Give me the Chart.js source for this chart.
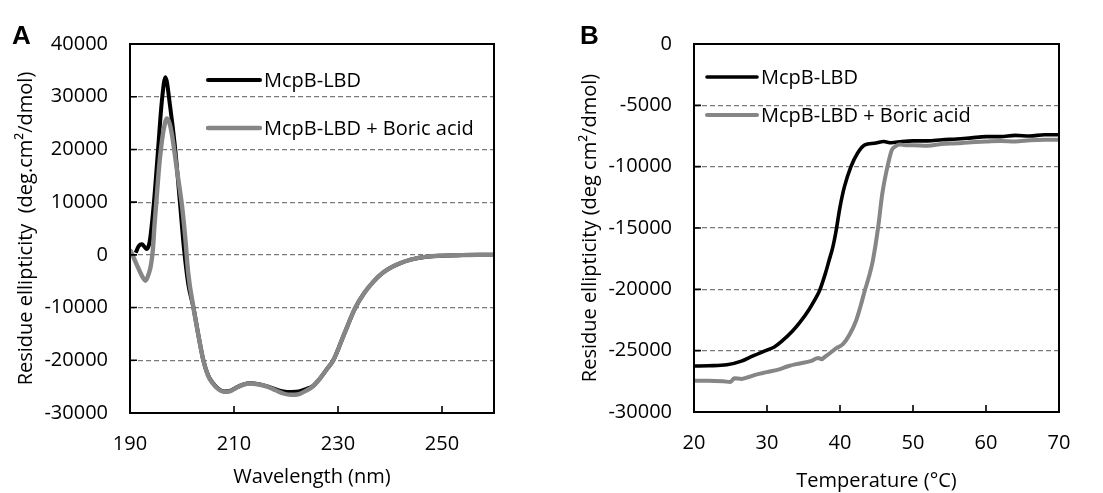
<!DOCTYPE html>
<html>
<head>
<meta charset="utf-8">
<script src="https://cdn.jsdelivr.net/npm/chart.js@4.4.0/dist/chart.umd.min.js"></script>
<style>
  html, body { margin: 0; padding: 0; background: #fff; }
  #wrap { position: relative; width: 1103px; height: 493px; overflow: hidden; }
  .panel { position: absolute; top: 0; height: 493px; }
  #panelA { left: 0; width: 560px; }
  #panelB { left: 560px; width: 543px; }
  .letter { position: absolute; font: bold 26px "Liberation Sans", Arial, sans-serif; line-height: 1; color: #000; }
</style>
</head>
<body>
<div id="wrap">
  <div class="panel" id="panelA"><canvas id="chartA"></canvas></div>
  <div class="panel" id="panelB"><canvas id="chartB"></canvas></div>
  <div class="letter" style="left:12px;top:22px">A</div>
  <div class="letter" style="left:580px;top:22px">B</div>
</div>
<script>
// ---- Panel A: CD spectra ----
const seriesNames = ['McpB-LBD', 'McpB-LBD + Boric acid'];

const waveBlackA = [191.1, 191.7, 192.3, 192.8, 193.2, 193.8, 194.6, 195.4, 196.1, 196.8, 197.7, 198.7, 199.6, 200.4, 201.2, 202.2, 203.2, 204.1, 205, 206, 207, 208.1, 209.2, 210.3, 211.8, 213.2, 214.8, 216.4, 218, 219.5, 221, 222.5, 224, 225, 226.5, 228, 229.1, 231.2, 233.3, 235, 236.8, 238.5, 240, 241.9, 244, 247, 250, 254, 257, 260];
const cdBlackA = [400, 1700, 2000, 1500, 1100, 2600, 9900, 20000, 28900, 33700, 28300, 20000, 10000, 1000, -5500, -10000, -15500, -20000, -22800, -24400, -25400, -25900, -25800, -25250, -24600, -24350, -24550, -24950, -25500, -25900, -26000, -25900, -25400, -25000, -23500, -21500, -20000, -15000, -10100, -7300, -5100, -3500, -2500, -1600, -900, -340, -150, -50, 0, 0];

const waveGrayA = [190, 190.7, 191.4, 192.2, 193, 193.6, 194, 194.4, 194.7, 195.1, 195.5, 196, 196.5, 197.1, 197.6, 198.1, 199, 200, 200.6, 201.2, 202.2, 203.2, 204.1, 205, 206, 207, 208.1, 209.2, 210.3, 211.8, 213.2, 214.8, 216.4, 218, 219.5, 221, 222.5, 224, 225, 226.5, 228, 229.1, 231.2, 233.3, 235, 236.8, 238.5, 240, 241.9, 244, 247, 250, 254, 257, 260];
const cdGrayA = [1000, -500, -2100, -3800, -4900, -3600, -2100, 1000, 5500, 10500, 15600, 20500, 23900, 25900, 25000, 22600, 16300, 9300, 3500, -3500, -10000, -15500, -20000, -22900, -24500, -25500, -26000, -25900, -25300, -24600, -24400, -24600, -25000, -25700, -26300, -26550, -26400, -25700, -25100, -23500, -21500, -20000, -15000, -10100, -7300, -5100, -3500, -2500, -1600, -900, -340, -150, -50, 0, 0];

const xTicksA = [190, 210, 230, 250];
const yTicksA = [-30000, -20000, -10000, 0, 10000, 20000, 30000, 40000];

// ---- Panel B: thermal unfolding ----
const tempBlackB = [20, 22, 24.5, 26.5, 28, 30, 31, 32, 33.5, 34.5, 35.7, 36.5, 37.2, 38, 38.5, 39, 39.4, 40, 40.6, 41.5, 42.4, 43.4, 44.7, 46, 47, 48.5, 50, 52, 54, 56, 58, 60, 62, 64, 66, 68, 70];
const cdBlackB = [-26250, -26230, -26150, -25850, -25450, -24950, -24700, -24250, -23400, -22700, -21700, -20900, -20100, -18700, -17650, -16600, -15450, -13300, -11650, -10000, -8900, -8220, -8090, -7950, -8050, -7950, -7900, -7900, -7800, -7750, -7650, -7550, -7550, -7450, -7500, -7400, -7400];

const tempGrayB = [20, 22, 24, 25, 25.5, 26.5, 27.5, 28.5, 30, 31.8, 33, 34, 36.1, 37, 37.5, 37.8, 38.5, 39.5, 40.4, 41.3, 42.2, 42.8, 43.4, 44, 44.5, 45.2, 45.8, 46.5, 47.1, 47.6, 48.2, 49, 50, 52, 54, 56, 58, 60, 62, 64, 66, 68, 70];
const cdGrayB = [-27450, -27450, -27500, -27550, -27250, -27300, -27150, -26950, -26750, -26500, -26250, -26100, -25830, -25600, -25700, -25560, -25250, -24800, -24470, -23700, -22560, -21400, -20100, -18900, -17650, -15050, -12180, -10000, -8640, -8350, -8200, -8250, -8250, -8300, -8150, -8100, -8000, -7950, -7900, -7950, -7850, -7800, -7800];

const xTicksB = [20, 30, 40, 50, 60, 70];
const yTicksB = [-30000, -25000, -20000, -15000, -10000, -5000, 0];

const FONT = { family: '"Open Sans", "Liberation Sans", sans-serif', size: 20 };
const BLACK = '#000000';
const GRAY = '#868686';

function zip(xs, ys) {
    return xs.map((x, i) => ({ x: x, y: ys[i] }));
}

// box around the plot area plus short inward tick marks
const framePlugin = {
    id: 'frame',
    afterDatasetsDraw(chart) {
        const { ctx, chartArea: a, scales } = chart;
        ctx.save();
        ctx.strokeStyle = '#000';
        ctx.lineWidth = 1.6;
        ctx.beginPath();
        scales.x.ticks.forEach(t => {
            if (t.value === scales.x.min || t.value === scales.x.max) return;
            const px = scales.x.getPixelForValue(t.value);
            ctx.moveTo(px, a.bottom);
            ctx.lineTo(px, a.bottom - 7);
        });
        scales.y.ticks.forEach(t => {
            if (t.value === scales.y.min || t.value === scales.y.max) return;
            const py = scales.y.getPixelForValue(t.value);
            ctx.moveTo(a.left, py);
            ctx.lineTo(a.left + 7, py);
        });
        ctx.stroke();
        ctx.lineWidth = 2;
        ctx.strokeRect(a.left, a.top, a.right - a.left, a.bottom - a.top);
        ctx.restore();
    }
};

// legend drawn inside the plot area
const insideLegend = {
    id: 'insideLegend',
    afterDatasetsDraw(chart, args, opts) {
        const { ctx, chartArea: a } = chart;
        ctx.save();
        ctx.font = FONT.size + 'px ' + FONT.family;
        ctx.textBaseline = 'middle';
        ctx.fillStyle = '#000';
        chart.data.datasets.forEach((ds, i) => {
            const x = a.left + opts.dx;
            const y = a.top + opts.dy + i * opts.gap;
            ctx.strokeStyle = ds.borderColor;
            ctx.lineWidth = ds.borderWidth;
            ctx.lineCap = 'round';
            ctx.beginPath();
            ctx.moveTo(x, y);
            ctx.lineTo(x + opts.len, y);
            ctx.stroke();
            ctx.fillText(ds.label, x + opts.len + 4, y + 1);
        });
        ctx.restore();
    }
};

function makeChart(id, cfg) {
    return new Chart(document.getElementById(id), {
        type: 'line',
        data: {
            datasets: [
                {
                    label: seriesNames[0],
                    data: cfg.black,
                    borderColor: BLACK,
                    borderWidth: cfg.lw,
                    pointRadius: 0,
                    cubicInterpolationMode: 'monotone',
                    order: 1
                },
                {
                    label: seriesNames[1],
                    data: cfg.gray,
                    borderColor: GRAY,
                    borderWidth: cfg.lw + 0.4,
                    pointRadius: 0,
                    cubicInterpolationMode: 'monotone',
                    order: 0
                }
            ]
        },
        options: {
            responsive: true,
            maintainAspectRatio: false,
            animation: false,
            layout: { padding: { top: 44, right: cfg.padRight, left: 0, bottom: 0 } },
            plugins: {
                legend: { display: false },
                tooltip: { enabled: false },
                insideLegend: cfg.legend
            },
            scales: {
                x: {
                    type: 'linear',
                    min: cfg.xTicks[0],
                    max: cfg.xMax,
                    afterBuildTicks: s => { s.ticks = cfg.xTicks.map(v => ({ value: v })); },
                    afterFit: s => { s.height = cfg.xHeight; },
                    grid: { display: false, drawTicks: false },
                    border: { display: false },
                    ticks: { color: '#000', font: FONT, padding: 19, maxRotation: 0, callback: v => String(v) },
                    title: { display: true, text: cfg.xTitle, color: '#000', font: FONT, padding: { top: 0, bottom: cfg.xTitlePad } }
                },
                y: {
                    type: 'linear',
                    min: cfg.yTicks[0],
                    max: cfg.yTicks[cfg.yTicks.length - 1],
                    afterBuildTicks: s => { s.ticks = cfg.yTicks.map(v => ({ value: v })); },
                    afterFit: s => { s.width = cfg.yWidth; },
                    grid: { drawTicks: false, color: '#7a7a7a', lineWidth: 1.2 },
                    border: { display: false, dash: [5, 3] },
                    ticks: { color: '#000', font: FONT, padding: 22, callback: v => String(v) },
                    title: { display: true, text: cfg.yTitle, color: '#000', font: FONT, padding: { top: cfg.yTitlePad, bottom: 0 } }
                }
            }
        },
        plugins: [framePlugin, insideLegend]
    });
}

makeChart('chartA', {
    black: zip(waveBlackA, cdBlackA),
    gray: zip(waveGrayA, cdGrayA),
    lw: 4,
    xTicks: xTicksA,
    xMax: 260,
    yTicks: yTicksA,
    padRight: 66,
    xHeight: 80,
    yWidth: 130,
    xTitle: 'Wavelength (nm)',
    xTitlePad: 4,
    yTitle: 'Residue ellipticity  (deg.cm\u00B2/dmol)',
    yTitlePad: 14,
    legend: { dx: 78, dy: 36, gap: 48, len: 52 }
});

makeChart('chartB', {
    black: zip(tempBlackB, cdBlackB),
    gray: zip(tempGrayB, cdGrayB),
    lw: 3.6,
    xTicks: xTicksB,
    xMax: 70,
    yTicks: yTicksB,
    padRight: 44,
    xHeight: 81,
    yWidth: 134,
    xTitle: 'Temperature (\u00B0C)',
    xTitlePad: 0,
    yTitle: 'Residue ellipticity (deg cm\u00B2/dmol)',
    yTitlePad: 18,
    legend: { dx: 13, dy: 33, gap: 38, len: 50 }
});
</script>
</body>
</html>
